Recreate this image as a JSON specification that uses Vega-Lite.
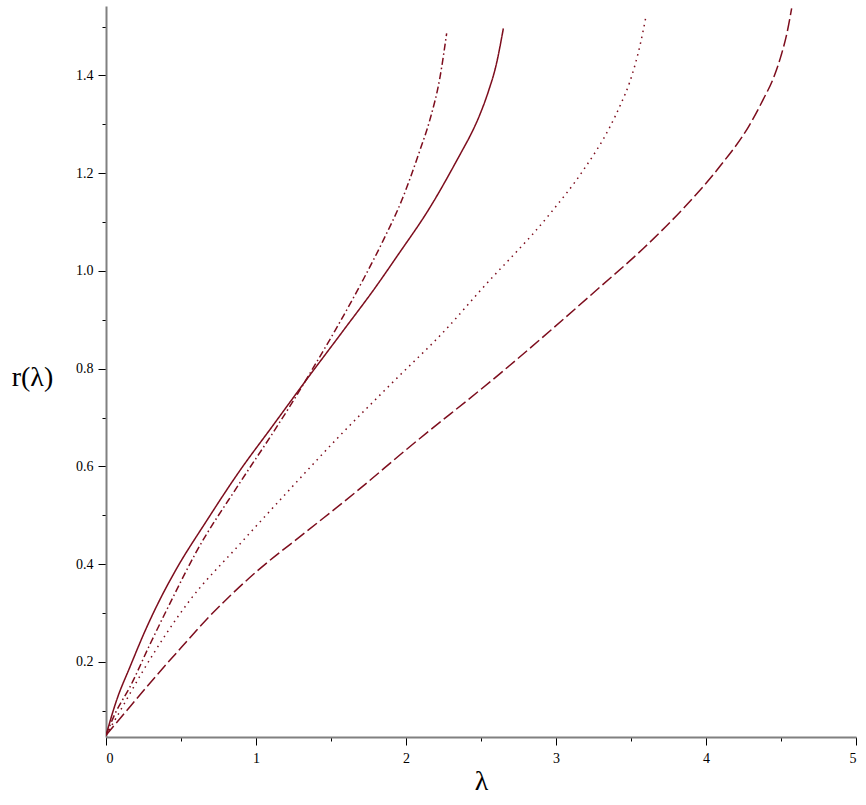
{
  "$schema": "https://vega.github.io/schema/vega-lite/v6.json",
  "autosize": "none",
  "width": 750,
  "height": 731,
  "padding": {"left": 106, "top": 6, "right": 10, "bottom": 68},
  "background": "white",
  "config": {"view": {"stroke": null}},
  "data": {"values": [
    {"s": "solid", "x": 0, "y": 0.05},
    {"s": "solid", "x": 0.071, "y": 0.122},
    {"s": "solid", "x": 0.16, "y": 0.19},
    {"s": "solid", "x": 0.267, "y": 0.268},
    {"s": "solid", "x": 0.36, "y": 0.328},
    {"s": "solid", "x": 0.467, "y": 0.389},
    {"s": "solid", "x": 0.667, "y": 0.487},
    {"s": "solid", "x": 0.889, "y": 0.59},
    {"s": "solid", "x": 1.111, "y": 0.683},
    {"s": "solid", "x": 1.333, "y": 0.776},
    {"s": "solid", "x": 1.582, "y": 0.878},
    {"s": "solid", "x": 1.8, "y": 0.968},
    {"s": "solid", "x": 1.938, "y": 1.029},
    {"s": "solid", "x": 2.16, "y": 1.13},
    {"s": "solid", "x": 2.376, "y": 1.247},
    {"s": "solid", "x": 2.427, "y": 1.276},
    {"s": "solid", "x": 2.49, "y": 1.318},
    {"s": "solid", "x": 2.55, "y": 1.368},
    {"s": "solid", "x": 2.6, "y": 1.42},
    {"s": "solid", "x": 2.649, "y": 1.496},
    {"s": "dashdot", "x": 0, "y": 0.05},
    {"s": "dashdot", "x": 0.06, "y": 0.094},
    {"s": "dashdot", "x": 0.16, "y": 0.149},
    {"s": "dashdot", "x": 0.293, "y": 0.236},
    {"s": "dashdot", "x": 0.433, "y": 0.324},
    {"s": "dashdot", "x": 0.6, "y": 0.424},
    {"s": "dashdot", "x": 0.889, "y": 0.565},
    {"s": "dashdot", "x": 1.111, "y": 0.668},
    {"s": "dashdot", "x": 1.244, "y": 0.732},
    {"s": "dashdot", "x": 1.382, "y": 0.802},
    {"s": "dashdot", "x": 1.527, "y": 0.878},
    {"s": "dashdot", "x": 1.716, "y": 0.983},
    {"s": "dashdot", "x": 1.849, "y": 1.063},
    {"s": "dashdot", "x": 1.971, "y": 1.144},
    {"s": "dashdot", "x": 2.093, "y": 1.247},
    {"s": "dashdot", "x": 2.16, "y": 1.31},
    {"s": "dashdot", "x": 2.227, "y": 1.397},
    {"s": "dashdot", "x": 2.271, "y": 1.486},
    {"s": "dotted", "x": 0, "y": 0.05},
    {"s": "dotted", "x": 0.104, "y": 0.105},
    {"s": "dotted", "x": 0.249, "y": 0.183},
    {"s": "dotted", "x": 0.556, "y": 0.325},
    {"s": "dotted", "x": 0.889, "y": 0.44},
    {"s": "dotted", "x": 1.222, "y": 0.552},
    {"s": "dotted", "x": 1.556, "y": 0.662},
    {"s": "dotted", "x": 1.911, "y": 0.772},
    {"s": "dotted", "x": 2.271, "y": 0.882},
    {"s": "dotted", "x": 2.49, "y": 0.958},
    {"s": "dotted", "x": 2.96, "y": 1.117},
    {"s": "dotted", "x": 3.182, "y": 1.206},
    {"s": "dotted", "x": 3.36, "y": 1.295},
    {"s": "dotted", "x": 3.43, "y": 1.34},
    {"s": "dotted", "x": 3.49, "y": 1.385},
    {"s": "dotted", "x": 3.53, "y": 1.425},
    {"s": "dotted", "x": 3.565, "y": 1.468},
    {"s": "dotted", "x": 3.6, "y": 1.521},
    {"s": "dashed", "x": 0, "y": 0.05},
    {"s": "dashed", "x": 0.167, "y": 0.111},
    {"s": "dashed", "x": 0.333, "y": 0.171},
    {"s": "dashed", "x": 0.5, "y": 0.229},
    {"s": "dashed", "x": 0.667, "y": 0.286},
    {"s": "dashed", "x": 0.833, "y": 0.337},
    {"s": "dashed", "x": 1.0, "y": 0.384},
    {"s": "dashed", "x": 1.333, "y": 0.466},
    {"s": "dashed", "x": 1.667, "y": 0.548},
    {"s": "dashed", "x": 2.0, "y": 0.634},
    {"s": "dashed", "x": 2.627, "y": 0.79},
    {"s": "dashed", "x": 3.293, "y": 0.967},
    {"s": "dashed", "x": 3.582, "y": 1.046},
    {"s": "dashed", "x": 3.849, "y": 1.128},
    {"s": "dashed", "x": 4.093, "y": 1.214},
    {"s": "dashed", "x": 4.293, "y": 1.3},
    {"s": "dashed", "x": 4.38, "y": 1.35},
    {"s": "dashed", "x": 4.45, "y": 1.395},
    {"s": "dashed", "x": 4.5, "y": 1.44},
    {"s": "dashed", "x": 4.54, "y": 1.487},
    {"s": "dashed", "x": 4.571, "y": 1.537}
  ]},
  "mark": {"type": "line", "interpolate": "monotone", "strokeWidth": 1.5, "color": "#7d0d1d", "clip": true},
  "encoding": {
    "x": {
      "field": "x", "type": "quantitative",
      "scale": {"domain": [0, 5], "nice": false, "zero": false},
      "axis": {
        "title": "λ",
        "values": [0, 0.5, 1, 1.5, 2, 2.5, 3, 3.5, 4, 4.5, 5],
        "labelExpr": "datum.value % 1 == 0 ? format(datum.value, 'd') : ''",
        "tickSize": {"condition": {"test": "datum.value % 1 != 0", "value": 4}, "value": 8},
        "grid": false,
        "domainColor": "#808080", "domainWidth": 2,
        "tickColor": "#000000", "tickWidth": 1,
        "labelFont": "Liberation Serif", "labelFontSize": 14, "labelColor": "#000000", "labelPadding": 6,
        "titleFont": "Liberation Serif", "titleFontSize": 28, "titleFontWeight": "normal", "titleColor": "#000000",
        "titlePadding": 2
      }
    },
    "y": {
      "field": "y", "type": "quantitative",
      "scale": {"domain": [0.0465, 1.542], "nice": false, "zero": false},
      "axis": {
        "title": "r(λ)",
        "values": [0.1, 0.2, 0.3, 0.4, 0.5, 0.6, 0.7, 0.8, 0.9, 1.0, 1.1, 1.2, 1.3, 1.4, 1.5],
        "labelExpr": "round(datum.value * 10) % 2 == 0 ? format(datum.value, '.1f') : ''",
        "tickSize": {"condition": {"test": "round(datum.value * 10) % 2 != 0", "value": 4}, "value": 8},
        "grid": false,
        "domainColor": "#808080", "domainWidth": 2,
        "tickColor": "#000000", "tickWidth": 1,
        "labelFont": "Liberation Serif", "labelFontSize": 14, "labelColor": "#000000", "labelPadding": 5,
        "titleFont": "Liberation Serif", "titleFontSize": 28, "titleFontWeight": "normal", "titleColor": "#000000",
        "titleAngle": 0, "titleAlign": "center", "titleBaseline": "middle",
        "titleX": -74, "titleY": 371
      }
    },
    "strokeDash": {
      "field": "s", "type": "nominal",
      "scale": {"domain": ["solid", "dashdot", "dotted", "dashed"], "range": [[1, 0], [7, 3, 1.5, 3], [1.5, 4.5], [12, 4]]},
      "legend": null
    }
  }
}
